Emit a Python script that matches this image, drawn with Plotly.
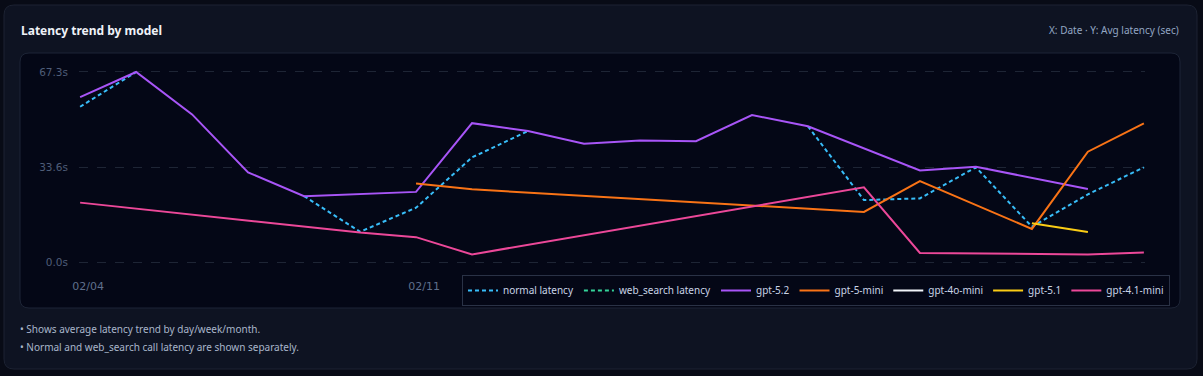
import plotly.graph_objects as go

# ---------------- data ----------------
dates = ["02/04", "02/05", "02/06", "02/07", "02/08", "02/09", "02/11",
         "02/12", "02/13", "02/14", "02/15", "02/16", "02/17", "02/18",
         "02/19", "02/20", "02/21", "02/22", "02/23", "02/25"]
x_tick_labels = ["02/04", "02/11"]
y_tick_values = [0.0, 33.65, 67.3]
y_tick_labels = ["0.0s", "33.6s", "67.3s"]

N = None
normal_latency = [55.0, 67.3, N, N, 23.4, 10.8, 19.3, 37.1, 46.4, N,
                  N, N, N, 48.1, 22.0, 22.6, 33.6, 12.6, 24.0, 33.6]
web_search_latency = [N] * 20
gpt_5_2 = [58.4, 67.3, 52.3, 31.8, 23.4, N, 24.9, 49.2, 46.4, 41.9,
           43.1, 42.8, 52.1, 48.1, N, 32.5, 33.8, N, 25.9, N]
gpt_5_mini = [N, N, N, N, N, N, 27.9, 25.8, N, N,
              N, N, N, N, 17.8, 28.7, N, 11.8, 39.1, 49.1]
gpt_4o_mini = [N] * 20
gpt_5_1 = [N, N, N, N, N, N, N, N, N, N,
           N, N, N, N, N, N, N, 13.8, 10.7, N]
gpt_4_1_mini = [21.1, N, N, N, N, 10.5, 8.9, 2.8, N, N,
                N, N, N, N, 26.5, 3.3, N, N, 2.8, 3.5]

# ---------------- layout geometry (pixels) ----------------
W, H = 1203, 376
PL, PR, PT, PB = 79, 1145, 68, 266   # plot area


def px(x):
    return (x - PL) / (PR - PL)


def py(y):
    return (PB - y) / (PB - PT)


def rrect(x0, y0, x1, y1, r):
    X0, X1 = px(x0), px(x1)
    Y0, Y1 = py(y0), py(y1)
    rx = r / (PR - PL)
    ry = r / (PB - PT)
    return (f"M{X0+rx},{Y0} L{X1-rx},{Y0} Q{X1},{Y0} {X1},{Y0-ry} "
            f"L{X1},{Y1+ry} Q{X1},{Y1} {X1-rx},{Y1} L{X0+rx},{Y1} "
            f"Q{X0},{Y1} {X0},{Y1+ry} L{X0},{Y0-ry} Q{X0},{Y0} {X0+rx},{Y0} Z")


fig = go.Figure()

series = [
    ("normal latency", normal_latency, "#38bdf8", "dash", False),
    ("web_search latency", web_search_latency, "#34d399", "dash", False),
    ("gpt-5.2", gpt_5_2, "#a855f7", "solid", True),
    ("gpt-5-mini", gpt_5_mini, "#f97316", "solid", True),
    ("gpt-4o-mini", gpt_4o_mini, "#f1f5f9", "solid", True),
    ("gpt-5.1", gpt_5_1, "#facc15", "solid", True),
    ("gpt-4.1-mini", gpt_4_1_mini, "#ec4899", "solid", True),
]
for name, vals, color, dash, cg in series:
    fig.add_trace(go.Scatter(
        x=dates, y=vals, name=name, mode="lines",
        line=dict(color=color, width=2,
                  dash="4px,3px" if dash == "dash" else "solid"),
        connectgaps=cg,
    ))

shapes = [
    dict(type="path", xref="paper", yref="paper", layer="below",
         path=rrect(4, 5, 1197, 369, 10),
         fillcolor="#0e1322", line=dict(color="#1c2232", width=1)),
    dict(type="path", xref="paper", yref="paper", layer="below",
         path=rrect(20, 53, 1180, 308, 9),
         fillcolor="#040716", line=dict(color="#1d2436", width=1)),
]

annotations = [
    dict(text="<b>Latency trend by model</b>", x=px(19), y=py(30),
         xref="paper", yref="paper", xanchor="left", yanchor="middle",
         showarrow=False, font=dict(family="Noto Sans", size=12, color="#eef2f8")),
    dict(text="X: Date · Y: Avg latency (sec)", x=px(1181), y=py(30),
         xref="paper", yref="paper", xanchor="right", yanchor="middle",
         showarrow=False, font=dict(family="Noto Sans", size=10, color="#93a6c2")),
    dict(text="• Shows average latency trend by day/week/month.", x=px(18), y=py(329),
         xref="paper", yref="paper", xanchor="left", yanchor="middle",
         showarrow=False, font=dict(family="Noto Sans", size=10, color="#a9b6ca")),
    dict(text="• Normal and web_search call latency are shown separately.", x=px(18), y=py(347),
         xref="paper", yref="paper", xanchor="left", yanchor="middle",
         showarrow=False, font=dict(family="Noto Sans", size=10, color="#a9b6ca")),
]

fig.update_layout(
    width=W, height=H,
    margin=dict(l=PL, r=W - PR, t=PT, b=H - PB, pad=0),
    paper_bgcolor="#080b16",
    plot_bgcolor="rgba(0,0,0,0)",
    shapes=shapes,
    annotations=annotations,
    showlegend=True,
    legend=dict(
        orientation="h", x=px(1170), y=py(275), xanchor="right", yanchor="top",
        bgcolor="#040716", bordercolor="#2a3246", borderwidth=1,
        font=dict(family="Noto Sans", size=10, color="#c9d4e6"),
        itemwidth=30, tracegroupgap=0,
    ),
    xaxis=dict(
        type="category", range=[-0.02, 19.02],
        tickvals=x_tick_labels, ticktext=x_tick_labels,
        showgrid=False, zeroline=False, showline=False, ticks="",
        tickfont=dict(family="DejaVu Sans", size=11, color="#5f6f8c"),
        ticklabelstandoff=12, ticklabelshift=8,
    ),
    yaxis=dict(
        range=[-1.31, 68.71],
        tickvals=y_tick_values, ticktext=y_tick_labels,
        showgrid=True, gridcolor="#1e2535", griddash="dash", gridwidth=1,
        zeroline=False, showline=False, ticks="",
        tickfont=dict(family="DejaVu Sans", size=10.5, color="#4f5d78"),
        ticklabelstandoff=10,
    ),
)

fig.write_html("out.html")
